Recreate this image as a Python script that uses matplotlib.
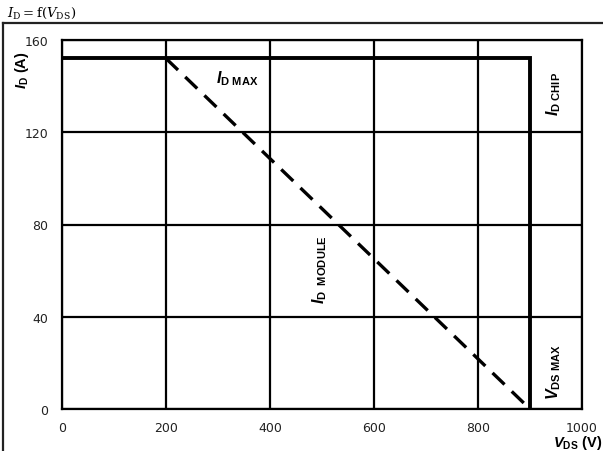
import matplotlib
matplotlib.use("Agg")
import matplotlib.pyplot as plt
from matplotlib.lines import Line2D

plt.rcParams['mathtext.fontset'] = 'custom'
plt.rcParams['mathtext.rm'] = 'Liberation Sans'
plt.rcParams['mathtext.bf'] = 'Liberation Sans:bold'
plt.rcParams['mathtext.it'] = 'Liberation Sans:italic'
plt.rcParams['mathtext.bfit'] = 'Liberation Sans:italic:bold'

# Safe operating limits
vds_max = 900          # V
id_max = 152           # A
module_v = [200, 900]  # V, module-limited boundary
module_i = [152, 0]    # A

x_ticks = [0, 200, 400, 600, 800, 1000]
y_ticks = [0, 40, 80, 120, 160]

W, H = 603, 452
fig = plt.figure(figsize=(W / 100, H / 100), dpi=100)
ax = fig.add_axes([62 / W, 1 - 410 / H, (582 - 62) / W, (410 - 41) / H])

ax.set_xlim(0, 1000)
ax.set_ylim(0, 160)
ax.set_xticks(x_ticks)
ax.set_yticks(y_ticks)
ax.tick_params(length=0, labelsize=9, colors='#222222')
ax.tick_params(axis='y', pad=10)
ax.tick_params(axis='x', pad=9)
ax.grid(True, color='black', linewidth=1.6)
for s in ax.spines.values():
    s.set_linewidth(1.6)
    s.set_color('black')

# chip limit: flat current ceiling then vertical voltage wall
ax.plot([0, vds_max, vds_max], [id_max, id_max, 0], color='black',
        linewidth=2.8, solid_joinstyle='miter', zorder=3)
# module limit
ax.plot(module_v, module_i, color='black', linewidth=2.4,
        dashes=(5, 3), zorder=3)


def mlabel(sym, sub):
    return r'$\mathbfit{%s}_{\mathbf{%s}}$' % (sym, sub)


lbl = dict(fontsize=11.5, color='black', ha='center', va='center')
ax.text(338, 143.5, mlabel('I', r'D\ MAX'), **lbl)
ax.text(945, 137, mlabel('I', r'D\ CHIP'), rotation=90, **lbl)
ax.text(496, 61, mlabel('I', r'D\ \ MODULE'), rotation=90, **lbl)
ax.text(945, 16.5, mlabel('V', r'DS\ MAX'), rotation=90, **lbl)

# axis labels
fig.text(578 / W, 1 - 443 / H, mlabel('V', 'DS') + r'$\ \mathbf{(V)}$',
         fontsize=10.5, ha='center', va='center')
fig.text(22 / W, 1 - 70 / H, mlabel('I', 'D') + r'$\ \mathbf{(A)}$',
         fontsize=10.5, ha='center', va='center', rotation=90)

# heading
fig.text(7 / W, 1 - 13 / H, r'$I_{\mathrm{D}} = \mathrm{f}(V_{\mathrm{DS}})$',
         fontsize=9.5, ha='left', va='center', family='Liberation Serif',
         math_fontfamily='dejavuserif')

# outer frame (top and left edges)
fig.add_artist(Line2D([3 / W, 1.0], [1 - 24 / H, 1 - 24 / H],
                      transform=fig.transFigure, color='#222222', linewidth=1.6))
fig.add_artist(Line2D([3 / W, 3 / W], [0, 1 - 24 / H],
                      transform=fig.transFigure, color='#222222', linewidth=1.6))

fig.savefig('out.png', dpi=100)
